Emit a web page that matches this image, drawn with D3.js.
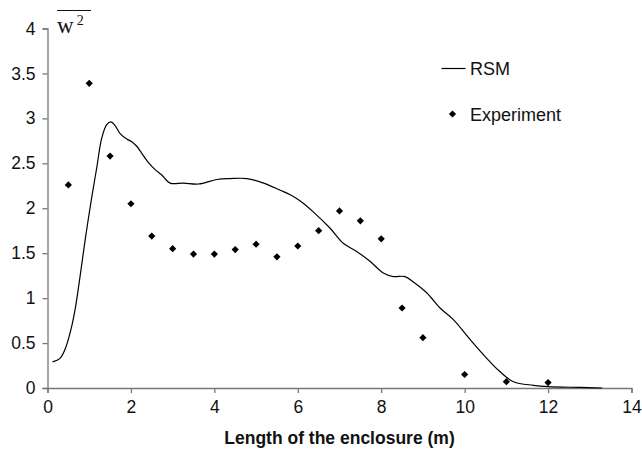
<!DOCTYPE html>
<html>
<head>
<meta charset="utf-8">
<script src="https://cdn.jsdelivr.net/npm/d3@7"></script>
<style>
  body { margin: 0; background: #fff; }
  svg { display: block; font-family: Arial, "Liberation Sans", sans-serif; }
</style>
</head>
<body>
<script>
// RSM prediction (solid line)
const rsmX = [0.12, 0.3, 0.42, 0.54, 0.66, 0.78, 0.9, 1.06, 1.18, 1.3, 1.42, 1.52, 1.62, 1.74, 1.9, 2.02, 2.14, 2.26, 2.4, 2.58, 2.74, 2.94, 3.26, 3.62, 4.06, 4.38, 4.78, 5.18, 5.58, 5.82, 6.06, 6.37, 6.77, 7.09, 7.41, 7.73, 8.05, 8.29, 8.57, 8.77, 9.09, 9.41, 9.73, 10.13, 10.53, 10.85, 11.17, 11.65, 12.0, 12.77, 13.3]
const rsmY = [0.29, 0.33, 0.43, 0.61, 0.87, 1.24, 1.64, 2.12, 2.45, 2.78, 2.93, 2.96, 2.92, 2.83, 2.77, 2.74, 2.69, 2.61, 2.52, 2.43, 2.37, 2.28, 2.28, 2.27, 2.32, 2.33, 2.33, 2.28, 2.20, 2.15, 2.08, 1.96, 1.78, 1.61, 1.52, 1.41, 1.28, 1.24, 1.24, 1.18, 1.06, 0.89, 0.76, 0.54, 0.33, 0.18, 0.07, 0.03, 0.015, 0.006, 0]

// Experiment (diamonds)
const expX = [0.5, 1, 1.5, 2, 2.5, 3, 3.5, 4, 4.5, 5, 5.5, 6, 6.5, 7, 7.5, 8, 8.5, 9, 10, 11, 12]
const expY = [2.26, 3.39, 2.58, 2.05, 1.69, 1.55, 1.49, 1.49, 1.54, 1.60, 1.46, 1.58, 1.75, 1.97, 1.86, 1.66, 0.89, 0.56, 0.15, 0.07, 0.06]

const xTicks = [0, 2, 4, 6, 8, 10, 12, 14]
const yTicks = [0, 0.5, 1, 1.5, 2, 2.5, 3, 3.5, 4]

const margin = { top: 28.5, right: 10.5, bottom: 66, left: 47.5 }
const width = 642 - margin.left - margin.right
const height = 454 - margin.top - margin.bottom

const svg = d3.select('body')
    .append('svg')
    .attr('width', 642)
    .attr('height', 454)

const g = svg.append('g')
    .attr('transform', `translate(${margin.left},${margin.top})`)

const x = d3.scaleLinear().domain([0, 14]).range([0, width])
const y = d3.scaleLinear().domain([0, 4]).range([height, 0])

// axes
const axisColor = '#777'
const xAxis = g.append('g')
    .attr('transform', `translate(0,${height})`)
    .call(d3.axisBottom(x).tickValues(xTicks).tickSize(5).tickPadding(8).tickFormat(d3.format('d')))
const yAxis = g.append('g')
    .call(d3.axisLeft(y).tickValues(yTicks).tickSize(5).tickPadding(7).tickFormat(d => d))
for (const ax of [xAxis, yAxis]) {
    ax.select('.domain').attr('stroke', axisColor).attr('stroke-width', 1.3)
    ax.selectAll('.tick line').attr('stroke', axisColor).attr('stroke-width', 1.3)
    ax.selectAll('.tick text')
        .attr('fill', '#111')
        .style('font-size', '17.5px')
        .style('font-family', 'Arial, "Liberation Sans", sans-serif')
}

// RSM line
const rsm = rsmX.map((v, i) => ({ x: v, y: rsmY[i] }))
g.append('path')
    .datum(rsm)
    .attr('fill', 'none')
    .attr('stroke', '#000')
    .attr('stroke-width', 1.2)
    .attr('d', d3.line().x(d => x(d.x)).y(d => y(d.y)).curve(d3.curveCatmullRom))

// experiment points
const diamond = d3.symbol().type(d3.symbolSquare).size(26)
const exp = expX.map((v, i) => ({ x: v, y: expY[i] }))
g.selectAll('.pt')
    .data(exp)
    .join('path')
    .attr('class', 'pt')
    .attr('d', diamond)
    .attr('fill', '#000')
    .attr('transform', d => `translate(${x(d.x)},${y(d.y)}) rotate(45)`)

// x axis title
svg.append('text')
    .attr('x', margin.left + width / 2)
    .attr('y', 444)
    .attr('text-anchor', 'middle')
    .style('font-size', '17.5px')
    .style('font-weight', 'bold')
    .attr('fill', '#111')
    .text('Length of the enclosure (m)')

// y axis title: overline w squared
const yt = svg.append('text')
    .attr('x', 57)
    .attr('y', 33)
    .style('font-family', '"Liberation Serif", "Times New Roman", serif')
    .style('font-size', '23px')
    .attr('fill', '#111')
yt.append('tspan').text('w')
yt.append('tspan').attr('dx', 3).attr('dy', -8).style('font-size', '14px').text('2')
svg.append('line')
    .attr('x1', 57).attr('x2', 91)
    .attr('y1', 10.5).attr('y2', 10.5)
    .attr('stroke', '#111').attr('stroke-width', 1.2)

// legend
const legend = svg.append('g').attr('transform', 'translate(441.5,68.5)')
legend.append('line')
    .attr('x1', 0).attr('x2', 24)
    .attr('stroke', '#000').attr('stroke-width', 1.2)
legend.append('text')
    .attr('x', 28.5).attr('y', 6.5)
    .style('font-size', '18px')
    .attr('fill', '#111')
    .text('RSM')
legend.append('path')
    .attr('d', diamond)
    .attr('fill', '#000')
    .attr('transform', 'translate(11,45.5) rotate(45)')
legend.append('text')
    .attr('x', 28.5).attr('y', 52.5)
    .style('font-size', '18px')
    .attr('fill', '#111')
    .text('Experiment')
</script>
</body>
</html>
